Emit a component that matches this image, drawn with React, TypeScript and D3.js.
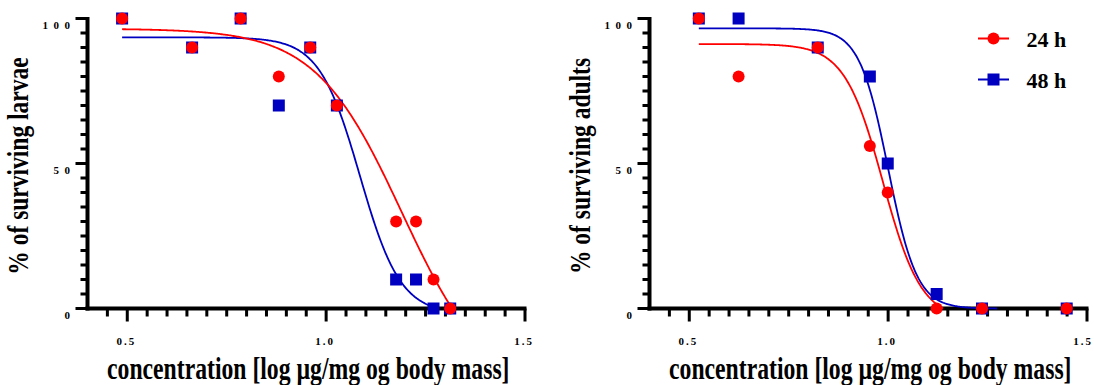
import React from 'react';
import * as d3 from 'd3';

// ---------- data ----------
const xDomain = [0.4, 1.5];
const yDomain = [0, 100];
const xTickValues = [0.5, 1.0, 1.5];
const xTickLabels = ['0.5', '1.0', '1.5'];
const yTickValues = [0, 50, 100];
const yTickLabels = ['0', '50', '100'];

// larvae panel: log concentration and % surviving
const larvaeConc = [0.487, 0.663, 0.785, 0.881, 0.96, 1.027, 1.176, 1.226, 1.27, 1.312];
const larvae24h = [100, 90, 100, 80, 90, 70, 30, 30, 10, 0];
const larvae48h = [100, 90, 100, 70, 90, 70, 10, 10, 0, 0];

// adults panel
const adultsConc = [0.524, 0.624, 0.823, 0.954, 0.999, 1.122, 1.236, 1.449];
const adults24h = [100, 80, 90, 56, 40, 0, 0, 0];
const adults48h = [100, 100, 90, 80, 50, 5, 0, 0];

// fitted dose-response curves: [top, bottom, logEC50, hill slope]
const larvaeFit24h = [96.5, -30, 1.19, 4.0];
const larvaeFit48h = [93.5, -2, 1.085, 8.5];
const adultsFit24h = [91.2, -4, 0.987, 9];
const adultsFit48h = [96.6, -0.05, 1.0, 12];

const seriesNames = ['24 h', '48 h'];
const seriesColors = ['#ff0000', '#0000c0'];
const yTitles = ['% of surviving larvae', '% of surviving adults'];
const xTitle = 'concentration [log \u00b5g/mg og body mass]';

const FONT = "'Liberation Serif', 'Times New Roman', Times, serif";

function fitCurve(fit: number[], xs: number[]): [number, number][] {
  const [T, B, m, h] = fit;
  const f = (v: number) => B + (T - B) / (1 + Math.pow(10, (v - m) * h));
  const lo = d3.min(xs) as number;
  let hi = d3.max(xs) as number;
  if (B < 0) {
    const xz = m + Math.log10((T - B) / -B - 1) / h;
    if (xz < hi) hi = xz;
  }
  const n = 300;
  return d3.range(n + 1).map((i) => {
    const v = lo + ((hi - lo) * i) / n;
    return [v, Math.max(0, f(v))] as [number, number];
  });
}

type PanelProps = {
  left: number;
  right: number;
  yTitle: string;
  conc: number[];
  s24: number[];
  s48: number[];
  fit24: number[];
  fit48: number[];
  legend?: boolean;
};

function Panel({ left, right, yTitle, conc, s24, s48, fit24, fit48, legend }: PanelProps) {
  const x = d3.scaleLinear().domain(xDomain).range([left, right]);
  const y = d3.scaleLinear().domain(yDomain).range([308.5, 18.5]);
  const ax = x(xDomain[0]);
  const ay = y(0);
  const xEnd = x(xDomain[1]);
  const minorX = d3.range(0.45, 1.5001, 0.05);
  const minorY = d3.range(0, 100.001, 5);
  const isMajorX = (v: number) => xTickValues.some((t) => Math.abs(t - v) < 1e-6);
  const isMajorY = (v: number) => yTickValues.some((t) => Math.abs(t - v) < 1e-6);
  const line = d3
    .line<[number, number]>()
    .x((d) => x(d[0]))
    .y((d) => y(d[1]));
  const c24 = fitCurve(fit24, conc);
  const c48 = fitCurve(fit48, conc);
  const sq = 12;
  const r = 6;
  const xMid = (ax + xEnd) / 2 + 2;
  const aw = 4; // axis thickness
  const tw = 3; // tick thickness
  return (
    <g>
      <rect x={ax - aw / 2} y={y(100) - tw / 2} width={aw} height={ay - y(100) + aw / 2 + tw / 2} fill="#000" />
      <rect x={ax - aw / 2} y={ay - aw / 2} width={xEnd - ax + aw / 2 + tw / 2} height={aw} fill="#000" />
      {minorY.map((v) => {
        const len = isMajorY(v) ? 12 : 7;
        return <rect key={'yt' + v} x={ax - len} y={y(v) - tw / 2} width={len} height={tw} fill="#000" />;
      })}
      {minorX.map((v) => {
        const len = isMajorX(v) ? 13 : 8;
        return <rect key={'xt' + v.toFixed(2)} x={x(v) - tw / 2} y={ay} width={tw} height={len} fill="#000" />;
      })}
      {yTickValues.map((v, i) => (
        <text key={'yl' + v} x={ax - 12} y={y(v) + 10} textAnchor="end" fontFamily={FONT} fontWeight="bold" fontSize={11} letterSpacing={5.5}>
          {yTickLabels[i]}
        </text>
      ))}
      {xTickValues.map((v, i) => (
        <text key={'xl' + v} x={Math.min(x(v) - 1, 1083)} y={345} textAnchor="middle" fontFamily={FONT} fontWeight="bold" fontSize={11} letterSpacing={2}>
          {xTickLabels[i]}
        </text>
      ))}
      <text transform={`translate(${ax - 60},166) rotate(-90) scale(1,1.25)`} textAnchor="middle" fontFamily={FONT} fontWeight="bold" fontSize={23.5}>
        {yTitle}
      </text>
      <text transform={`translate(${xMid},378.5) scale(1,1.3)`} textAnchor="middle" fontFamily={FONT} fontWeight="bold" fontSize={23.7}>
        {xTitle}
      </text>
      <path d={line(c48) || ''} fill="none" stroke={seriesColors[1]} strokeWidth={1.8} />
      <path d={line(c24) || ''} fill="none" stroke={seriesColors[0]} strokeWidth={1.8} />
      {conc.map((c, i) => (
        <rect key={'s' + i} x={x(c) - sq / 2} y={y(s48[i]) - sq / 2} width={sq} height={sq} fill={seriesColors[1]} />
      ))}
      {conc.map((c, i) => (
        <circle key={'c' + i} cx={x(c)} cy={y(s24[i])} r={r} fill={seriesColors[0]} />
      ))}
      {legend &&
        seriesNames.map((name, i) => {
          const ly = i === 0 ? 38.5 : 79.5;
          return (
            <g key={name}>
              <rect x={978} y={ly - 1} width={31} height={2} fill={seriesColors[i]} />
              {i === 0 ? (
                <circle cx={993.5} cy={ly} r={r} fill={seriesColors[i]} />
              ) : (
                <rect x={993.5 - sq / 2} y={ly - sq / 2} width={sq} height={sq} fill={seriesColors[i]} />
              )}
              <text x={1026.5} y={ly + 8} fontFamily={FONT} fontWeight="bold" fontSize={22}>
                {name}
              </text>
            </g>
          );
        })}
    </g>
  );
}

export default function App() {
  return (
    <svg width={1094} height={385} viewBox="0 0 1094 385" style={{ position: 'absolute', left: 0, top: 0, background: '#fff' }}>
      <rect x={0} y={0} width={1094} height={385} fill="#fff" />
      <Panel left={87.5} right={525} yTitle={yTitles[0]} conc={larvaeConc} s24={larvae24h} s48={larvae48h} fit24={larvaeFit24h} fit48={larvaeFit48h} />
      <Panel left={649.5} right={1087} yTitle={yTitles[1]} conc={adultsConc} s24={adults24h} s48={adults48h} fit24={adultsFit24h} fit48={adultsFit48h} legend />
    </svg>
  );
}
